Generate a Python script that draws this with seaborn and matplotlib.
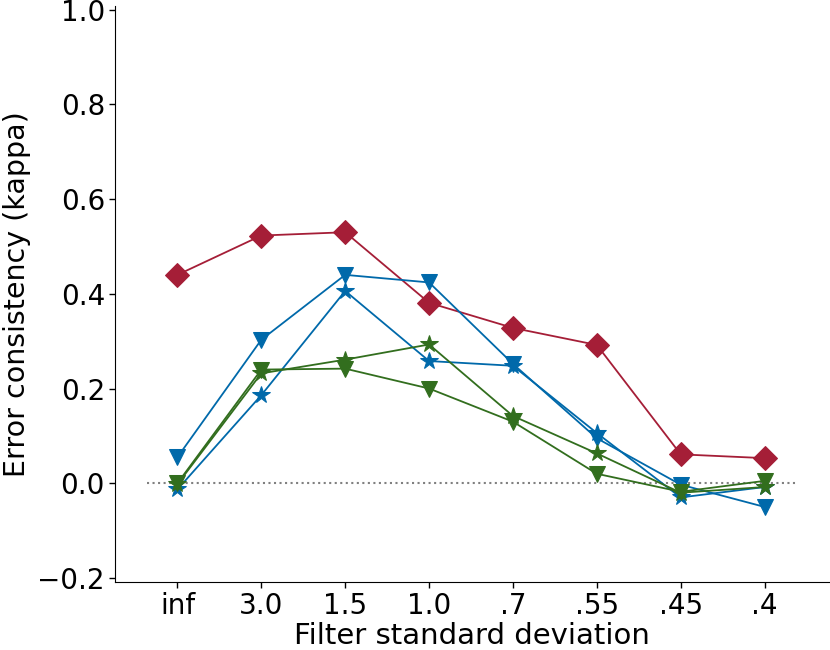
import numpy as np
import pandas as pd
import matplotlib
matplotlib.use("Agg")
import matplotlib.pyplot as plt
import seaborn as sns

sns.set_style("ticks")
plt.rcParams["font.family"] = ["DejaVu Sans"]
plt.rcParams["text.color"] = "black"
plt.rcParams["axes.labelcolor"] = "black"
plt.rcParams["xtick.color"] = "black"
plt.rcParams["ytick.color"] = "black"
plt.rcParams["axes.edgecolor"] = "black"

# dane
conditions = ["inf", "3.0", "1.5", "1.0", ".7", ".55", ".45", ".4"]

red_diamond = [0.440, 0.523, 0.530, 0.381, 0.328, 0.292, 0.061, 0.053]
blue_triangle = [0.055, 0.303, 0.440, 0.424, 0.252, 0.095, -0.003, -0.050]
blue_star = [-0.013, 0.186, 0.406, 0.258, 0.248, 0.106, -0.030, -0.008]
green_triangle = [0.000, 0.240, 0.242, 0.200, 0.130, 0.020, -0.018, 0.005]
green_star = [-0.002, 0.232, 0.261, 0.293, 0.142, 0.063, -0.020, -0.008]

red = (165 / 255, 30 / 255, 55 / 255)
blue = (0 / 255, 105 / 255, 170 / 255)
green = (50 / 255, 110 / 255, 30 / 255)

series = [
    (red_diamond, red, "D", 12),
    (blue_triangle, blue, "v", 12),
    (blue_star, blue, "*", 13),
    (green_triangle, green, "v", 12),
    (green_star, green, "*", 13),
]

xpos = np.arange(len(conditions))

fig = plt.figure(figsize=(8.3, 6.5), dpi=100)
ax = fig.add_axes([0.139, 0.105, 0.86, 0.886])

ax.axhline(0, xmin=0.045, xmax=0.954, color="grey", linestyle=":", linewidth=1.5, zorder=1)

for vals, col, mk, ms in series:
    df = pd.DataFrame({"x": xpos, "y": vals})
    sns.lineplot(data=df, x="x", y="y", ax=ax, color=col, marker=mk,
                 markersize=ms, markeredgecolor=col, linewidth=1.3, zorder=3)

ax.set_xlim(-0.74, 7.77)
ax.set_ylim(-0.208, 1.008)
ax.set_xticks(xpos)
ax.set_xticklabels(conditions)
ax.set_yticks([-0.2, 0.0, 0.2, 0.4, 0.6, 0.8, 1.0])
ax.tick_params(labelsize=20, length=4, width=1)
ax.set_xlabel("Filter standard deviation", fontsize=21, labelpad=1)
ax.set_ylabel("Error consistency (kappa)", fontsize=20.5, labelpad=5)
sns.despine(ax=ax)

plt.savefig("out.png", dpi=100)
